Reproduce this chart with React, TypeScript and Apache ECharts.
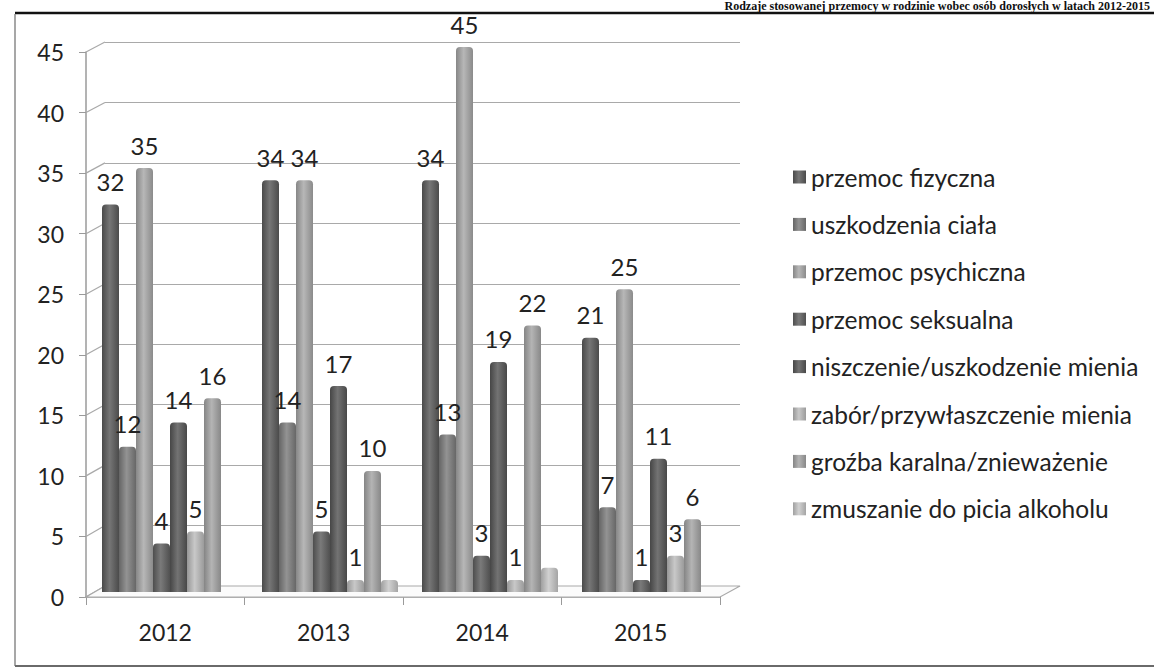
import React, { useEffect, useRef } from "react";
import * as echarts from "echarts";

const years = ["2012", "2013", "2014", "2015"];
const seriesNames = [
  "przemoc fizyczna",
  "uszkodzenia ciała",
  "przemoc psychiczna",
  "przemoc seksualna",
  "niszczenie/uszkodzenie mienia",
  "zabór/przywłaszczenie mienia",
  "groźba karalna/znieważenie",
  "zmuszanie do picia alkoholu",
];
const przemocFizyczna = [32, 34, 34, 21];
const uszkodzeniaCiala = [12, 14, 13, 7];
const przemocPsychiczna = [35, 34, 45, 25];
const przemocSeksualna = [4, 5, 3, 1];
const niszczenieMienia = [14, 17, 19, 11];
const zaborMienia = [5, 1, 1, 3];
const grozbaKaralna = [16, 10, 22, 6];
const zmuszanieAlkohol = [0, 1, 2, 0];
const seriesValues = [
  przemocFizyczna,
  uszkodzeniaCiala,
  przemocPsychiczna,
  przemocSeksualna,
  niszczenieMienia,
  zaborMienia,
  grozbaKaralna,
  zmuszanieAlkohol,
];
const showLabels = [true, true, true, true, true, true, true, false];
const yMin = 0;
const yMax = 45;
const yStep = 5;

const titleText = "Rodzaje stosowanej przemocy w rodzinie wobec osób dorosłych w latach 2012-2015";

// styles
const baseColors = ["#5c5c5c", "#7e7e7e", "#a9a9a9", "#616161", "#585858", "#bdbdbd", "#a6a6a6", "#c8c8c8"];
const FONT = "Lato, 'Open Sans', sans-serif";

function shade(hex: string, f: number) {
  const n = parseInt(hex.slice(1), 16);
  const ch = [(n >> 16) & 255, (n >> 8) & 255, n & 255].map((c) =>
    Math.max(0, Math.min(255, Math.round(f >= 1 ? c + (255 - c) * (f - 1) : c * f)))
  );
  return "rgb(" + ch.join(",") + ")";
}

const W = 1154;
const H = 670;
const BAR_GRID = { left: 90, right: W - 730, top: 47, bottom: H - 592 };
const FRONT_GRID = { left: 86, right: W - 720, top: 52, bottom: H - 597 };
const BACK_GRID = { left: 105, right: W - 740, top: 42, bottom: H - 586 };

export default function App() {
  const ref = useRef<HTMLDivElement>(null);
  useEffect(() => {
    if (!ref.current) return;
    const chart = echarts.init(ref.current, undefined, { renderer: "svg" });
    const series = seriesNames.map((name, i) => ({
      name,
      type: "bar",
      xAxisIndex: 0,
      yAxisIndex: 0,
      data: seriesValues[i],
      barGap: "0%",
      barCategoryGap: "15%",
      z: 3,
      itemStyle: {
        borderRadius: [4, 4, 0, 0],
        color: new echarts.graphic.LinearGradient(0, 0, 1, 0, [
          { offset: 0, color: shade(baseColors[i], 0.8) },
          { offset: 0.45, color: shade(baseColors[i], 1.16) },
          { offset: 1, color: shade(baseColors[i], 0.82) },
        ]),
      },
      label: {
        show: showLabels[i],
        position: "top",
        distance: 11,
        fontSize: 24,
        fontFamily: FONT,
        color: "#222222",
      },
    }));
    const option: any = {
      animation: false,
      backgroundColor: "#ffffff",
      grid: [
        { ...BAR_GRID },
        { ...FRONT_GRID },
        { ...BACK_GRID },
      ],
      legend: {
        orient: "vertical",
        left: 788,
        top: 159,
        itemWidth: 13,
        itemHeight: 13,
        itemGap: 21.4,
        icon: "rect",
        data: seriesNames,
        textStyle: { fontSize: 24.5, fontFamily: FONT, color: "#222222", lineHeight: 26 },
      },
      xAxis: [
        { type: "category", data: years, gridIndex: 0, show: false },
        {
          type: "category",
          data: years,
          gridIndex: 1,
          axisLine: { show: true, lineStyle: { color: "#9a9a9a", width: 1.5 } },
          axisTick: { show: true, length: 8, lineStyle: { color: "#9a9a9a" } },
          axisLabel: { fontSize: 23, fontFamily: FONT, color: "#222222", margin: 23 },
        },
        { type: "category", data: years, gridIndex: 2, show: false },
      ],
      yAxis: [
        { type: "value", gridIndex: 0, min: yMin, max: yMax, interval: yStep, show: false },
        {
          type: "value",
          gridIndex: 1,
          min: yMin,
          max: yMax,
          interval: yStep,
          axisLine: { show: true, lineStyle: { color: "#9a9a9a", width: 1.5 } },
          axisTick: { show: true, length: 7, lineStyle: { color: "#9a9a9a" } },
          axisLabel: { fontSize: 23, fontFamily: FONT, color: "#222222", margin: 22 },
          splitLine: { show: false },
        },
        {
          type: "value",
          gridIndex: 2,
          min: yMin,
          max: yMax,
          interval: yStep,
          axisLine: { show: false },
          axisTick: { show: false },
          axisLabel: { show: false },
          splitLine: { show: true, lineStyle: { color: "#a9a9a9", width: 1.2 } },
        },
      ],
      series,
    };
    chart.setOption(option);

    const graphics: any[] = [];
    // connectors between the front axis and the back wall, through the library's scales
    for (let v = yMin; v <= yMax; v += yStep) {
      const yf = chart.convertToPixel({ yAxisIndex: 1 }, v) as number;
      const yb = chart.convertToPixel({ yAxisIndex: 2 }, v) as number;
      graphics.push({
        type: "line",
        silent: true,
        z: 1,
        shape: { x1: FRONT_GRID.left, y1: yf, x2: BACK_GRID.left, y2: yb },
        style: { stroke: "#a9a9a9", lineWidth: 1.2 },
      });
    }
    const y0f = chart.convertToPixel({ yAxisIndex: 1 }, 0) as number;
    const y0b = chart.convertToPixel({ yAxisIndex: 2 }, 0) as number;
    graphics.push({
      type: "polygon",
      silent: true,
      z: 1,
      shape: {
        points: [
          [FRONT_GRID.left, y0f],
          [W - FRONT_GRID.right, y0f],
          [W - BACK_GRID.right, y0b],
          [BACK_GRID.left, y0b],
        ],
      },
      style: { fill: "#fbfbfb", stroke: "#a9a9a9", lineWidth: 1.2 },
    });
    // page frame and title line
    graphics.push({
      type: "text",
      silent: true,
      z: 10,
      x: W - 4,
      y: 0,
      style: {
        text: titleText,
        fontSize: 12,
        fontWeight: "bold",
        fontFamily: "'Liberation Serif', 'DejaVu Serif', serif",
        fill: "#111111",
        textAlign: "right",
        textVerticalAlign: "top",
      },
    });
    graphics.push({
      type: "line",
      silent: true,
      z: 10,
      shape: { x1: 15, y1: 13, x2: W, y2: 13 },
      style: { stroke: "#111111", lineWidth: 2.5 },
    });
    graphics.push({
      type: "line",
      silent: true,
      z: 10,
      shape: { x1: 15, y1: 14, x2: 15, y2: 666 },
      style: { stroke: "#8a8a8a", lineWidth: 1.5 },
    });
    graphics.push({
      type: "line",
      silent: true,
      z: 10,
      shape: { x1: 15, y1: 666, x2: W, y2: 666 },
      style: { stroke: "#6a6a6a", lineWidth: 2 },
    });
    chart.setOption({ graphic: graphics });

    return () => chart.dispose();
  }, []);
  return (
    <div
      ref={ref}
      style={{ position: "fixed", left: 0, top: 0, width: W, height: H, background: "#fff" }}
    />
  );
}
